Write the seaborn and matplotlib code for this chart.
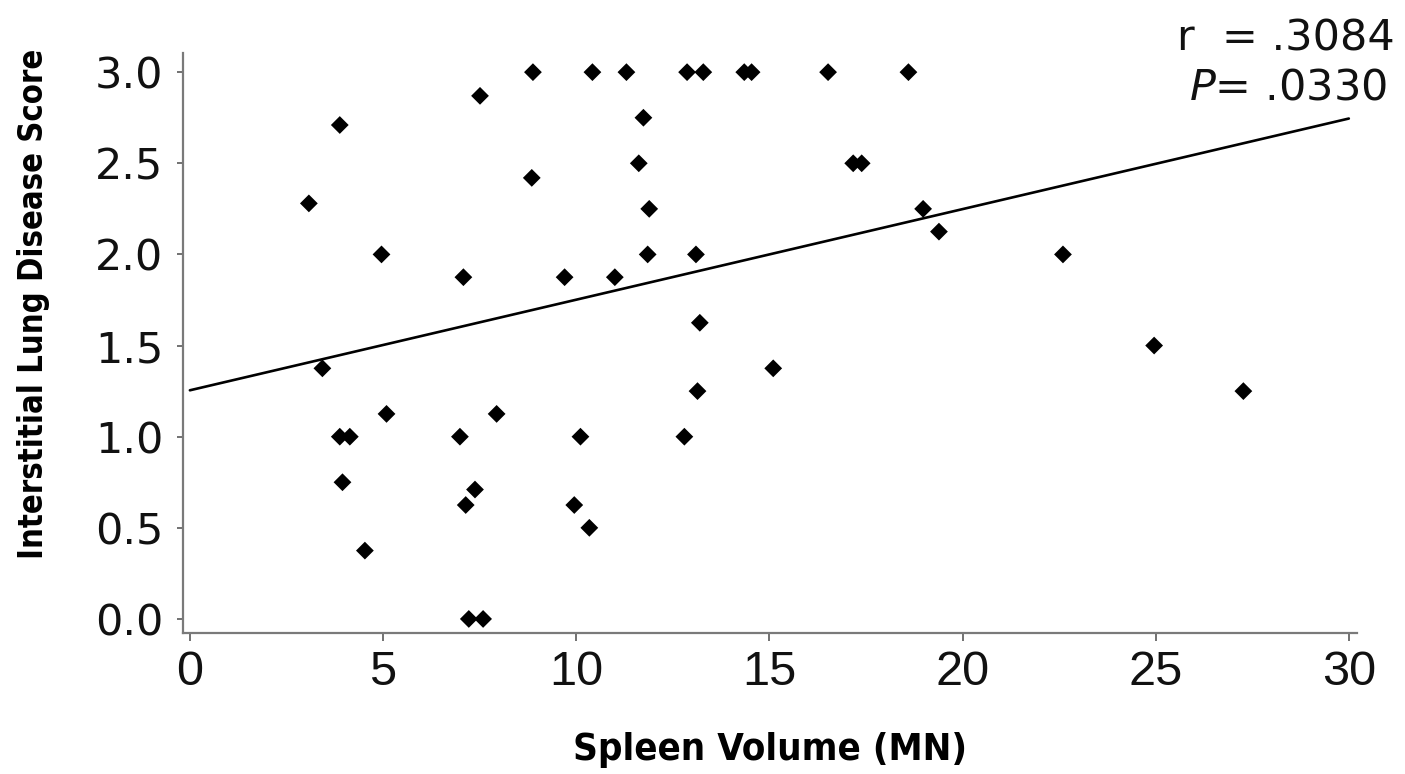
import numpy as np
import pandas as pd
import matplotlib
matplotlib.use("Agg")
import matplotlib.pyplot as plt
from matplotlib import font_manager as fm
import seaborn as sns

# Spleen volume (multiples of normal) and interstitial lung disease score per patient
spleen_volume = [
    3.08, 3.43, 3.88, 3.88, 3.95, 4.14, 4.53, 4.96, 5.09, 6.99,
    7.08, 7.14, 7.22, 7.38, 7.51, 7.59, 7.94, 8.85, 8.88, 9.70,
    9.95, 10.11, 10.34, 10.42, 11.00, 11.30, 11.62, 11.74, 11.85, 11.89,
    12.80, 12.87, 13.10, 13.14, 13.20, 13.29, 14.35, 14.54, 15.10, 16.52,
    17.17, 17.39, 18.60, 18.98, 19.39, 22.60, 24.96, 27.27,
]
ild_score = [
    2.28, 1.375, 2.71, 1.00, 0.75, 1.00, 0.375, 2.00, 1.125, 1.00,
    1.875, 0.625, 0.00, 0.71, 2.87, 0.00, 1.125, 2.42, 3.00, 1.875,
    0.625, 1.00, 0.50, 3.00, 1.875, 3.00, 2.50, 2.75, 2.00, 2.25,
    1.00, 3.00, 2.00, 1.25, 1.625, 3.00, 3.00, 3.00, 1.375, 3.00,
    2.50, 2.50, 3.00, 2.25, 2.125, 2.00, 1.50, 1.25,
]
x_ticks = [0, 5, 10, 15, 20, 25, 30]
y_ticks = [0.0, 0.5, 1.0, 1.5, 2.0, 2.5, 3.0]
r_text = "r  = .3084"
p_text = r"$\mathit{P}$= .0330"

df = pd.DataFrame({"spleen": spleen_volume, "ild": ild_score})

sns.set_theme(style="white")

# Heavy condensed face for the axis titles, falling back if the narrow face is absent
available = {f.name for f in fm.fontManager.ttflist}
if "Liberation Sans Narrow" in available:
    title_font = dict(family="Liberation Sans Narrow", weight="bold")
else:
    title_font = dict(family="DejaVu Sans", weight="bold", stretch="condensed")

fig = plt.figure(figsize=(14.05, 7.74), dpi=100)
ax = fig.add_axes([0.1302, 0.1822, 0.8356, 0.7493])

sns.scatterplot(data=df, x="spleen", y="ild", marker="D", s=82,
                color="black", edgecolor="none", ax=ax)

# Least-squares line across the full axis span
slope, intercept = np.polyfit(df["spleen"], df["ild"], 1)
fit = pd.DataFrame({"spleen": [0, 30]})
fit["ild"] = intercept + slope * fit["spleen"]
sns.lineplot(data=fit, x="spleen", y="ild", color="black", linewidth=1.9, ax=ax)

ax.set_xlim(-0.18, 30.21)
ax.set_ylim(-0.077, 3.105)
ax.set_xticks(x_ticks)
ax.set_yticks(y_ticks)
ax.set_xticklabels([str(t) for t in x_ticks], fontsize=35,
                   family="Liberation Sans", color="#111111")
ax.set_yticklabels([f"{t:.1f}" for t in y_ticks], fontsize=31,
                   family="DejaVu Sans", color="#111111")

for side in ("top", "right"):
    ax.spines[side].set_visible(False)
for side in ("left", "bottom"):
    ax.spines[side].set_color("#7a7a7a")
    ax.spines[side].set_linewidth(1.6)

ax.tick_params(axis="x", direction="out", length=6, width=1.3,
               color="#666666", pad=6.5, bottom=True)
ax.tick_params(axis="y", direction="out", length=4, width=1.3,
               color="#666666", pad=10, left=True)

ax.set_xlabel("Spleen Volume (MN)", fontsize=27.5, color="black", **title_font)
ax.set_ylabel("Interstitial Lung Disease Score", fontsize=23.5, color="black", **title_font)
ax.xaxis.set_label_coords(0.5, -0.17)
ax.yaxis.set_label_coords(-0.113, 0.567)
ax.yaxis.label.set_va("bottom")

fig.text(0.993, 0.935, r_text, ha="right", va="baseline", fontsize=31,
         family="DejaVu Sans", color="#111111")
fig.text(0.987, 0.871, p_text, ha="right", va="baseline", fontsize=31,
         family="DejaVu Sans", color="#111111")

fig.savefig("out.png", dpi=100, facecolor="white")
